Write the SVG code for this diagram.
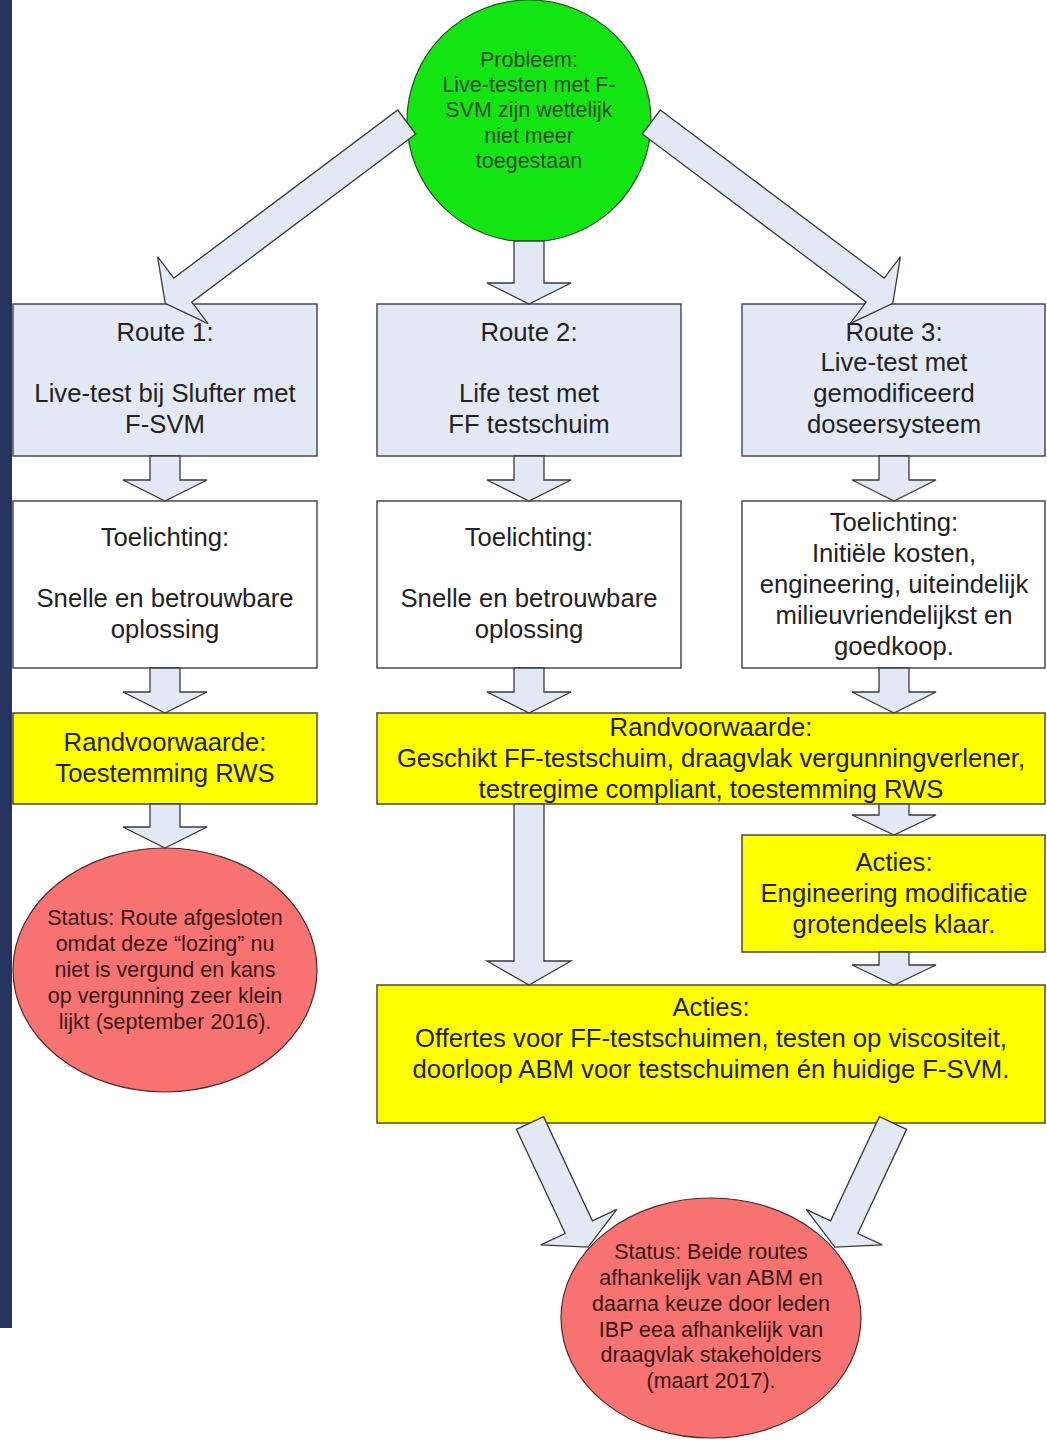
<svg xmlns="http://www.w3.org/2000/svg" width="1047" height="1440" viewBox="0 0 1047 1440">
<style>
.bg{fill:#ffffff}
.strip{fill:#25355f}
.blue{fill:#e3e9f4;stroke:#4a4a4a;stroke-width:1.5}
.white{fill:#ffffff;stroke:#4a4a4a;stroke-width:1.5}
.yellow{fill:#ffff00;stroke:#4a4a3a;stroke-width:1.5}
.green{fill:#12e512;stroke:#2a4a2a;stroke-width:1.2}
.red{fill:#f67371;stroke:#4a2a2a;stroke-width:1.2}
.arrow{fill:#e3e9f4;stroke:#3a3a3a;stroke-width:1.3;stroke-linejoin:miter}
text{font-family:"Liberation Sans",Arial,sans-serif;text-anchor:middle;dominant-baseline:central}
.t{font-size:25.7px;fill:#222222}
.s{font-size:21.5px}
.sg{fill:#2c4a2c}
.sr{fill:#3a1616}
</style>
<rect class="bg" x="0" y="0" width="1047" height="1440"/>
<rect class="strip" x="0" y="0" width="12" height="1328"/>

<g id="probleem">
<ellipse class="green" cx="529" cy="121" rx="122" ry="121"/>
<text class="s sg" x="529" y="60">Probleem:</text>
<text class="s sg" x="529" y="85">Live-testen met F-</text>
<text class="s sg" x="529" y="110">SVM zijn wettelijk</text>
<text class="s sg" x="529" y="136">niet meer</text>
<text class="s sg" x="529" y="161">toegestaan</text>
</g>

<g id="route1">
<rect class="blue" x="13" y="304" width="304" height="152"/>
<text class="t" x="165" y="332">Route 1:</text>
<text class="t" x="165" y="393">Live-test bij Slufter met</text>
<text class="t" x="165" y="424">F-SVM</text>
</g>
<g id="route2">
<rect class="blue" x="377" y="304" width="304" height="152"/>
<text class="t" x="529" y="332">Route 2:</text>
<text class="t" x="529" y="393">Life test met</text>
<text class="t" x="529" y="424">FF testschuim</text>
</g>
<g id="route3">
<rect class="blue" x="742" y="304" width="303" height="152"/>
<text class="t" x="894" y="332">Route 3:</text>
<text class="t" x="894" y="362">Live-test met</text>
<text class="t" x="894" y="393">gemodificeerd</text>
<text class="t" x="894" y="424">doseersysteem</text>
</g>

<g id="toelichting1">
<rect class="white" x="13" y="501" width="304" height="167"/>
<text class="t" x="165" y="537">Toelichting:</text>
<text class="t" x="165" y="598">Snelle en betrouwbare</text>
<text class="t" x="165" y="629">oplossing</text>
</g>
<g id="toelichting2">
<rect class="white" x="377" y="501" width="304" height="167"/>
<text class="t" x="529" y="537">Toelichting:</text>
<text class="t" x="529" y="598">Snelle en betrouwbare</text>
<text class="t" x="529" y="629">oplossing</text>
</g>
<g id="toelichting3">
<rect class="white" x="742" y="501" width="303" height="167"/>
<text class="t" x="894" y="522">Toelichting:</text>
<text class="t" x="894" y="553">Initiële kosten,</text>
<text class="t" x="894" y="584">engineering, uiteindelijk</text>
<text class="t" x="894" y="615">milieuvriendelijkst en</text>
<text class="t" x="894" y="646">goedkoop.</text>
</g>

<g id="randvoorwaarde1">
<rect class="yellow" x="13" y="713" width="304" height="91"/>
<text class="t" x="165" y="742">Randvoorwaarde:</text>
<text class="t" x="165" y="773">Toestemming RWS</text>
</g>
<g id="randvoorwaarde23">
<rect class="yellow" x="377" y="713" width="668" height="91"/>
<text class="t" x="711" y="727">Randvoorwaarde:</text>
<text class="t" x="711" y="758">Geschikt FF-testschuim, draagvlak vergunningverlener,</text>
<text class="t" x="711" y="789">testregime compliant, toestemming RWS</text>
</g>

<g id="acties3">
<rect class="yellow" x="742" y="835" width="303" height="117"/>
<text class="t" x="894" y="862">Acties:</text>
<text class="t" x="894" y="893">Engineering modificatie</text>
<text class="t" x="894" y="924">grotendeels klaar.</text>
</g>
<g id="acties23">
<rect class="yellow" x="377" y="985" width="668" height="138"/>
<text class="t" x="711" y="1007">Acties:</text>
<text class="t" x="711" y="1038">Offertes voor FF-testschuimen, testen op viscositeit,</text>
<text class="t" x="711" y="1069">doorloop ABM voor testschuimen én huidige F-SVM.</text>
</g>

<g id="status1">
<ellipse class="red" cx="165" cy="970" rx="152" ry="122"/>
<text class="s sr" x="165" y="918">Status: Route afgesloten</text>
<text class="s sr" x="165" y="944">omdat deze “lozing” nu</text>
<text class="s sr" x="165" y="970">niet is vergund en kans</text>
<text class="s sr" x="165" y="996">op vergunning zeer klein</text>
<text class="s sr" x="165" y="1022">lijkt (september 2016).</text>
</g>
<g id="status23">
<ellipse class="red" cx="711" cy="1318" rx="150" ry="120"/>
<text class="s sr" x="711" y="1252">Status: Beide routes</text>
<text class="s sr" x="711" y="1278">afhankelijk van ABM en</text>
<text class="s sr" x="711" y="1304">daarna keuze door leden</text>
<text class="s sr" x="711" y="1330">IBP eea afhankelijk van</text>
<text class="s sr" x="711" y="1355">draagvlak stakeholders</text>
<text class="s sr" x="711" y="1381">(maart 2017).</text>
</g>

<g id="connectors">
<polygon class="arrow" transform="translate(406.7,122) rotate(143.1)" points="0,-15 280,-15 280,-42 302,0 280,42 280,15 0,15"/>
<polygon class="arrow" transform="translate(651.3,122) rotate(36.9)" points="0,-15 280,-15 280,-42 302,0 280,42 280,15 0,15"/>
<polygon class="arrow" points="514,241 544,241 544,283 571,283 529,304 487,283 514,283"/>
<polygon class="arrow" points="150,456 180,456 180,480 207,480 165,501 123,480 150,480"/>
<polygon class="arrow" points="514,456 544,456 544,480 571,480 529,501 487,480 514,480"/>
<polygon class="arrow" points="879,456 909,456 909,480 936,480 894,501 852,480 879,480"/>
<polygon class="arrow" points="150,668 180,668 180,692 207,692 165,713 123,692 150,692"/>
<polygon class="arrow" points="514,668 544,668 544,692 571,692 529,713 487,692 514,692"/>
<polygon class="arrow" points="879,668 909,668 909,692 936,692 894,713 852,692 879,692"/>
<polygon class="arrow" points="150,804 180,804 180,827 207,827 165,848 123,827 150,827"/>
<polygon class="arrow" points="879,804 909,804 909,815 936,815 894,835 852,815 879,815"/>
<polygon class="arrow" points="514,804 544,804 544,961 571,961 529,985 487,961 514,961"/>
<polygon class="arrow" points="879,952 909,952 909,965 936,965 894,985 852,965 879,965"/>
<polygon class="arrow" transform="translate(530,1123) rotate(64.9)" points="0,-15 115,-15 115,-42 137,0 115,42 115,15 0,15"/>
<polygon class="arrow" transform="translate(893,1123) rotate(115.1)" points="0,-15 115,-15 115,-42 137,0 115,42 115,15 0,15"/>
</g>
</svg>
